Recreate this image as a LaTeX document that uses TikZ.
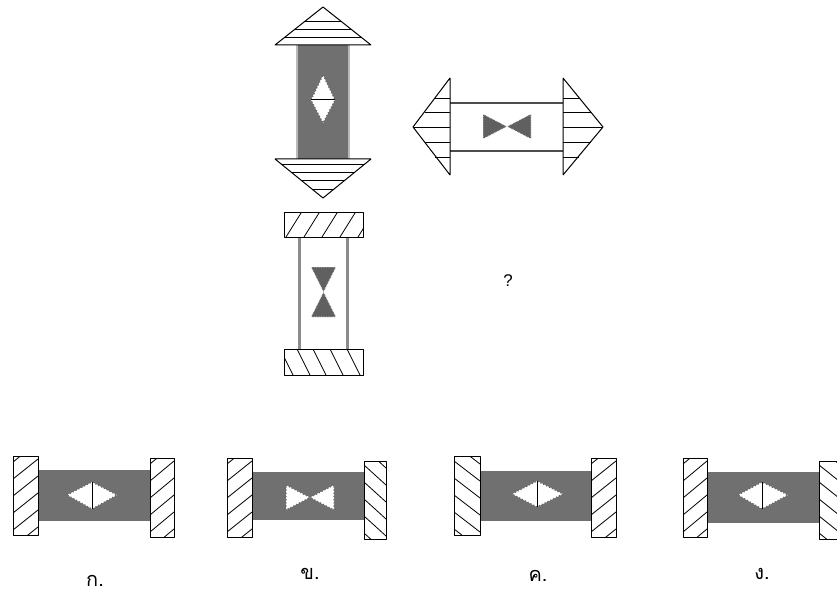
\documentclass[tikz,border=0pt]{standalone}
\usepackage{fontspec}
\setmainfont{Liberation Sans}
\newfontfamily\thaifont[Script=Thai]{Loma}
\definecolor{bandgray}{RGB}{112,112,112}
\definecolor{tiegray}{RGB}{96,96,96}
\definecolor{edgegray}{RGB}{140,140,140}
\begin{document}
\begin{tikzpicture}[x=1bp,y=-1bp,line join=bevel,
  frame/.style={draw=black,line width=1bp},
  hatch/.style={draw=black,line width=0.8bp},
  band/.style={fill=bandgray},
  rail/.style={draw=edgegray,line width=3bp},
  tie/.style={fill=tiegray,draw=white,densely dotted,line width=0.7bp},
  window/.style={fill=white,draw=black!60,dotted,line width=1.2bp},
  choice/.style={font=\thaifont\fontsize{20}{24}\selectfont},
]
\useasboundingbox (0,0) rectangle (837,596);
%%
  % Figure: vertical arrow
\begin{scope}
  \fill[band] (296,45) rectangle (350,159);
  \draw[rail,draw=edgegray!60,line width=1.6bp] (296.8,45) -- (296.8,159) (349.2,45) -- (349.2,159);
  \draw[frame,fill=white] (323,7) -- (371,45) -- (275,45) -- cycle;
  \draw[frame,fill=white] (275,159) -- (371,159) -- (323,198) -- cycle;
  \draw[hatch] (305,21) -- (341,21) (295,29) -- (351,29) (285,37) -- (361,37);
  \draw[hatch] (281,164) -- (365,164) (291,172) -- (355,172) (301,180) -- (345,180) (312,189) -- (334,189);
  \draw[window] (323,75) -- (335,100) -- (323,123) -- (311,100) -- cycle;
  \draw[line width=1bp] (311,100) -- (335,100);
\end{scope}
  % Figure: horizontal arrow
\begin{scope}
  \draw[draw=black!70,line width=1.8bp] (450,103) -- (563,103) (450,151) -- (563,151);
  \draw[frame,fill=white] (450,78) -- (450,175) -- (413,127) -- cycle;
  \draw[frame,fill=white] (563,78) -- (563,175) -- (603,127) -- cycle;
  \draw[hatch] (435,98) -- (450,98) (425,112) -- (450,112) (413,127) -- (450,127) (425,142) -- (450,142) (435,157) -- (450,157);
  \draw[hatch] (563,98) -- (579,98) (563,112) -- (591,112) (563,127) -- (603,127) (563,142) -- (591,142) (563,157) -- (579,157);
  \draw[tie] (483,114) -- (507,126.5) -- (483,139) -- cycle;
  \draw[tie] (531,114) -- (507,126.5) -- (531,139) -- cycle;
\end{scope}
  % Figure: hourglass
\begin{scope}
  \draw[rail] (299,237) -- (299,349) (347,237) -- (347,349);
  \draw[tie] (311,267) -- (336,267) -- (323.5,292) -- cycle;
  \draw[tie] (311,317) -- (336,317) -- (323.5,292) -- cycle;
  \draw[frame,fill=white] (284,213) rectangle (363,237);
  \draw[frame,fill=white] (284,349) rectangle (363,375);
  \begin{scope}
    \clip (284,213) rectangle (363,237);
    \draw[hatch] (286,237) -- (301,213) (304,237) -- (319,213) (322,237) -- (337,213) (340,237) -- (355,213) (358,237) -- (373,213);
  \end{scope}
  \begin{scope}
    \clip (284,349) rectangle (363,375);
    \draw[hatch] (280,349) -- (293,375) (297,349) -- (310,375) (313,349) -- (326,375) (330,349) -- (343,375) (347,349) -- (360,375);
  \end{scope}
\end{scope}
\node[font=\fontsize{17}{19}\selectfont] (ask) at (508,281) {?};
%%
  % Choice: ko
\begin{scope}
  \fill[band] (38,470) rectangle (150,521);
  \draw[window] (67,495) -- (92,482) -- (117,495) -- (92,509) -- cycle;
  \draw[line width=1bp] (92,482) -- (92,509);
  \draw[frame,fill=white] (13,456) rectangle (38,535);
  \draw[frame,fill=white] (150,458) rectangle (174,537);
  \begin{scope}
    \clip (13,456) rectangle (38,535);
    \draw[hatch] (13,462) -- (38,442) (13,479) -- (38,459) (13,496) -- (38,476) (13,513) -- (38,493) (13,530) -- (38,510) (13,547) -- (38,527);
  \end{scope}
  \begin{scope}
    \clip (150,458) rectangle (174,537);
    \draw[hatch] (150,464) -- (174,444) (150,481) -- (174,461) (150,498) -- (174,478) (150,515) -- (174,495) (150,532) -- (174,512) (150,549) -- (174,529);
  \end{scope}
  \node[choice] (ko) at (95,581) {ก.};
\end{scope}
  % Choice: kho
\begin{scope}
  \fill[band] (252,472) rectangle (364,520);
  \draw[window,fill=white] (286,485) -- (310,497.5) -- (286,510) -- cycle;
  \draw[window,fill=white] (334,485) -- (310,497.5) -- (334,510) -- cycle;
  \draw[frame,fill=white] (227,458) rectangle (252,537);
  \draw[frame,fill=white] (364,461) rectangle (386,539);
  \begin{scope}
    \clip (227,458) rectangle (252,537);
    \draw[hatch] (227,464) -- (252,444) (227,481) -- (252,461) (227,498) -- (252,478) (227,515) -- (252,495) (227,532) -- (252,512) (227,549) -- (252,529);
  \end{scope}
  \begin{scope}
    \clip (364,461) rectangle (386,539);
    \draw[hatch] (364,533) -- (386,553) (364,516) -- (386,536) (364,499) -- (386,519) (364,482) -- (386,502) (364,465) -- (386,485) (364,448) -- (386,468);
  \end{scope}
  \node[choice] (kho) at (310,574) {ข.};
\end{scope}
  % Choice: kho khwai
\begin{scope}
  \fill[band] (480,471) rectangle (591,521);
  \draw[window] (512,494) -- (537,481) -- (563,494) -- (537,507) -- cycle;
  \draw[line width=1bp] (537,481) -- (537,507);
  \draw[frame,fill=white] (454,456) rectangle (480,535);
  \draw[frame,fill=white] (591,458) rectangle (616,537);
  \begin{scope}
    \clip (454,456) rectangle (480,535);
    \draw[hatch] (454,529) -- (480,549) (454,512) -- (480,532) (454,495) -- (480,515) (454,478) -- (480,498) (454,461) -- (480,481) (454,444) -- (480,464);
  \end{scope}
  \begin{scope}
    \clip (591,458) rectangle (616,537);
    \draw[hatch] (591,464) -- (616,444) (591,481) -- (616,461) (591,498) -- (616,478) (591,515) -- (616,495) (591,532) -- (616,512) (591,549) -- (616,529);
  \end{scope}
  \node[choice] (khokhwai) at (538,576) {ค.};
\end{scope}
  % Choice: ngo
\begin{scope}
  \fill[band] (707,472) rectangle (819,523);
  \draw[window] (738,495) -- (762,482) -- (788,495) -- (762,509) -- cycle;
  \draw[line width=1bp] (762,482) -- (762,509);
  \draw[frame,fill=white] (683,458) rectangle (707,537);
  \draw[frame,fill=white] (819,461) rectangle (846,539);
  \begin{scope}
    \clip (683,458) rectangle (707,537);
    \draw[hatch] (683,464) -- (707,444) (683,481) -- (707,461) (683,498) -- (707,478) (683,515) -- (707,495) (683,532) -- (707,512) (683,549) -- (707,529);
  \end{scope}
  \begin{scope}
    \clip (819,461) rectangle (837,539);
    \draw[hatch] (819,533) -- (844,553) (819,516) -- (844,536) (819,499) -- (844,519) (819,482) -- (844,502) (819,465) -- (844,485) (819,448) -- (844,468);
  \end{scope}
  \node[choice] (ngo) at (762,574) {ง.};
\end{scope}
%
\end{tikzpicture}
\end{document}
